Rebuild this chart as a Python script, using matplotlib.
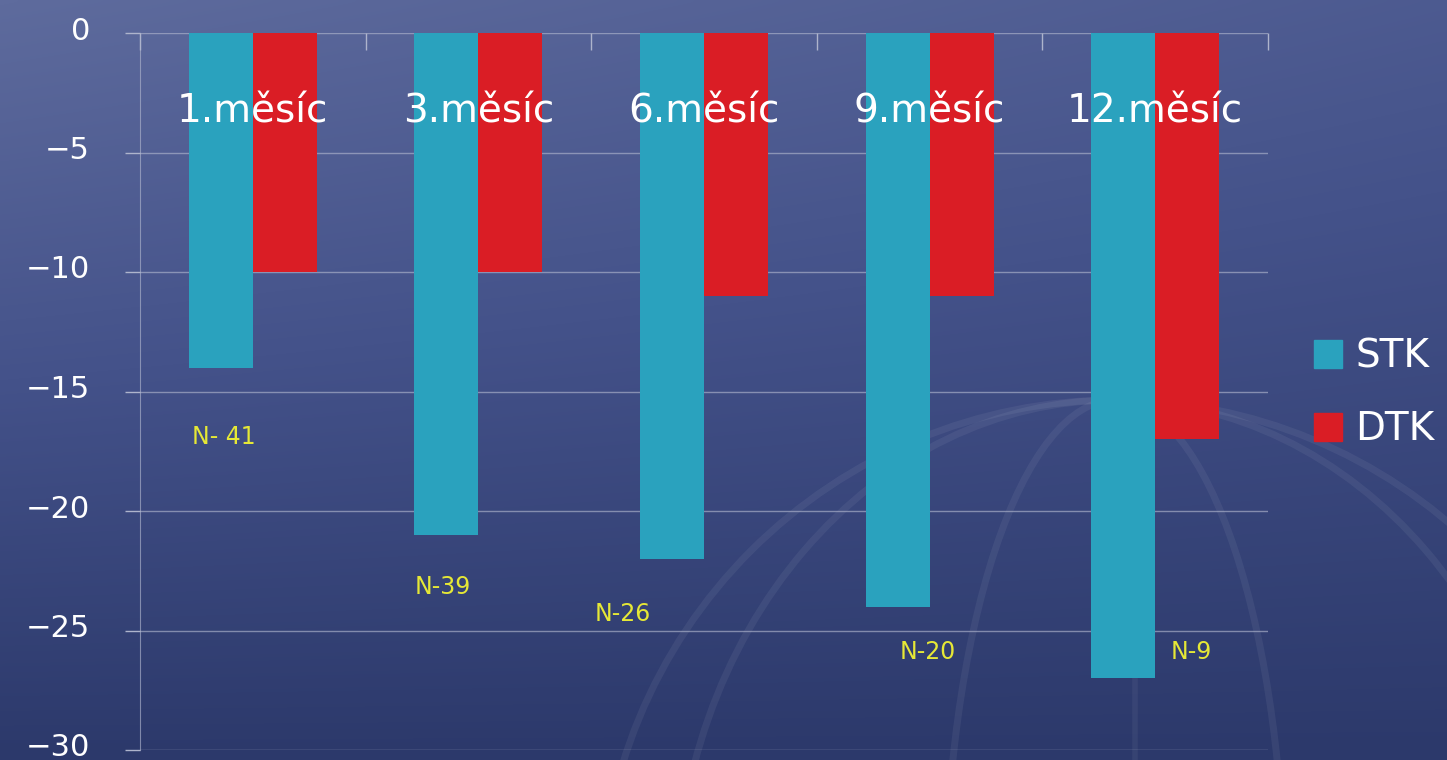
import numpy as np
import matplotlib
matplotlib.use("Agg")
import matplotlib.pyplot as plt
import matplotlib.transforms as mtransforms
from matplotlib.patches import Patch, Arc, Ellipse
from matplotlib.colors import LinearSegmentedColormap

months = ["1.měsíc", "3.měsíc", "6.měsíc", "9.měsíc", "12.měsíc"]
stk = [-14, -21, -22, -24, -27]
dtk = [-10, -10, -11, -11, -17]
n_labels = ["N- 41", "N-39", "N-26", "N-20", "N-9"]

# where each N label sits: (offset from group centre, y)
n_pos = [(-0.13, -16.9), (-0.16, -23.2), (-0.36, -24.3), (-0.01, -25.9), (0.16, -25.9)]

STK_C = "#2aa2be"
DTK_C = "#da1d25"
GRID_C = "#aeb4cc"
W, H = 1447, 760

fig = plt.figure(figsize=(W / 100, H / 100), dpi=100)

# slide background: blue gradient with a faint globe
bg = fig.add_axes([0, 0, 1, 1])
bg.set_xlim(0, W)
bg.set_ylim(H, 0)
bg.axis("off")
yy, xx = np.mgrid[0:1:200j, 0:1:300j]
t = 0.75 * yy + 0.25 * xx * (1 - yy)
cmap = LinearSegmentedColormap.from_list("slide", ["#5e6b9d", "#44528a", "#2c396b"])
bg.imshow(t, cmap=cmap, extent=[0, W, H, 0], aspect="auto", interpolation="bicubic")
cx, cy, r = 1115, 915, 515
globe = dict(fill=False, ec="white", lw=5, alpha=0.06)
bg.add_patch(Ellipse((cx, cy), 2 * r, 2 * r, **globe))
bg.add_patch(Ellipse((cx, cy), 2 * 440, 2 * r, **globe))
bg.add_patch(Ellipse((cx, cy), 2 * 170, 2 * r, **globe))
bg.plot([cx + 20, cx + 20], [cy - r + 5, H], color="white", lw=4, alpha=0.05)
bg.add_patch(Arc((cx + 40, cy), 2 * 370, 2 * r, theta1=0, theta2=90, ec="white", lw=5, alpha=0.06))
bg.add_patch(Arc((cx, 1900), 3200, 2540, theta1=45, theta2=135, ec="white", lw=6, alpha=0.05))

ax = fig.add_axes([140 / W, 1 - 750 / H, (1268 - 140) / W, (750 - 33) / H])
ax.set_facecolor("none")

x = np.arange(len(months))
w = 0.284
ax.bar(x - w / 2, stk, w, color=STK_C, label="STK", zorder=3)
ax.bar(x + w / 2, dtk, w, color=DTK_C, label="DTK", zorder=3)

for i, m in enumerate(months):
    ax.text(i, -3.3, m, ha="center", va="center", color="white", fontsize=28, zorder=4)
for i, lab in enumerate(n_labels):
    dx, yv = n_pos[i]
    ax.text(i + dx, yv, lab, ha="center", va="center", color="#e6e836", fontsize=17, zorder=4)

ax.set_xlim(-0.5, len(months) - 0.5)
ax.set_ylim(-30, 0)
ax.set_yticks(np.arange(-30, 1, 5))
ax.yaxis.grid(True, color=GRID_C, lw=1, alpha=0.65, zorder=1)
ax.tick_params(axis="y", colors=GRID_C, length=11, width=1, pad=25,
               labelcolor="white", labelsize=22)
lift = mtransforms.ScaledTranslation(0, 5 / 100, fig.dpi_scale_trans)
for lbl in ax.get_yticklabels():
    lbl.set_transform(lbl.get_transform() + lift)
ax.xaxis.set_ticks_position("top")
ax.set_xticks(np.arange(-0.5, len(months), 1))
ax.tick_params(axis="x", direction="in", colors=GRID_C, length=12, width=1, labeltop=False)
for s in ["right", "bottom", "top"]:
    ax.spines[s].set_visible(False)
ax.spines["left"].set_color(GRID_C)
ax.spines["left"].set_alpha(0.65)

handles = [Patch(color=STK_C, label="STK"), Patch(color=DTK_C, label="DTK")]
leg = fig.legend(handles=handles, loc="center left", bbox_to_anchor=(1314 / W, 1 - 393 / H),
                 frameon=False, fontsize=28, handlelength=0.72, handleheight=0.72,
                 handletextpad=0.35, labelspacing=0.9, borderpad=0, borderaxespad=0)
for txt in leg.get_texts():
    txt.set_color("white")

fig.savefig("out.png", dpi=100)
